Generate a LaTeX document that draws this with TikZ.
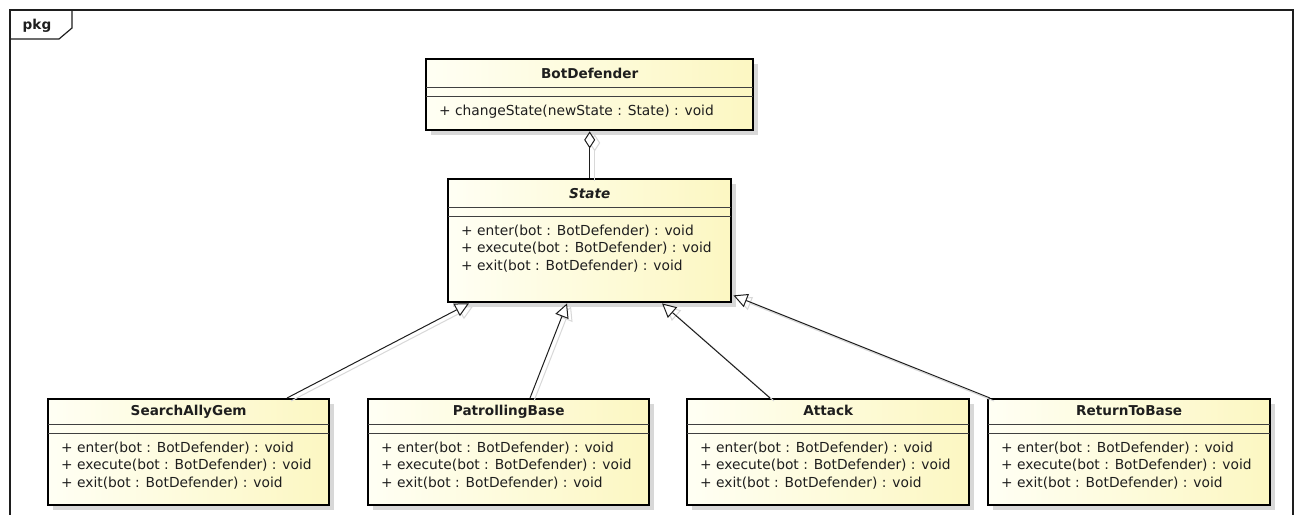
\documentclass[tikz,border=0pt]{standalone}
\usepackage{fontspec}
\setmainfont{DejaVu Sans}
\usetikzlibrary{arrows.meta,shadows,calc}

\definecolor{boxlight}{RGB}{255,255,244}
\definecolor{boxyellow}{RGB}{252,247,194}
\definecolor{shadowgray}{RGB}{216,216,216}
\definecolor{ink}{RGB}{30,30,30}

\tikzset{
  classbox/.style={draw=black, line width=2.4pt, left color=boxlight, right color=boxyellow,
    anchor=north west, inner sep=0pt,
    drop shadow={shadow xshift=5pt, shadow yshift=-5pt, fill=shadowgray, opacity=1}},
  sepline/.style={draw=black!75, line width=0.9pt},
  classname/.style={font=\fontsize{13.6}{16}\selectfont\bfseries, text=ink, anchor=base, inner sep=0pt},
  optext/.style={font=\fontsize{13.8}{17.5}\selectfont, text=ink, anchor=base west, inner sep=0pt},
  gen/.style={-{Triangle[length=14pt,width=14pt,fill=white]}, line width=1pt, draw=ink},
  genshadow/.style={gen, draw=shadowgray, transform canvas={xshift=4pt,yshift=-3pt}},
  agg/.style={{Diamond[length=17pt,width=11pt,fill=white]}-, line width=1pt, draw=ink},
  aggshadow/.style={agg, draw=shadowgray, transform canvas={xshift=5pt,yshift=-3pt}},
  framebox/.style={draw=ink, line width=1.2pt},
}

% #1 node name, #2 left, #3 top, #4 width, #5 height,
% #6 offset of the name separator, #7 class name, #8 operations
\newcommand\umlclass[8]{%
  \node[classbox, minimum width=#4pt, minimum height=#5pt] (#1) at (#2,#3) {};
  \draw[sepline] ($(#1.north west)+(1,#6)$) -- ($(#1.north east)+(-1,#6)$);
  \draw[sepline] ($(#1.north west)+(1,#6+9)$) -- ($(#1.north east)+(-1,#6+9)$);
  \node[classname] (#1-name) at ($(#1.north)+(0,#6-8.5)$) {#7};
  \foreach \op [count=\i] in {#8} {
    \node[optext] (#1-op\i) at ($(#1.north west)+(14,#6+28+17.5*\i-17.5)$) {\op};
  }%
}

\begin{document}
\begin{tikzpicture}[x=1pt,y=-1pt]
  \useasboundingbox[fill=white] (0,0) rectangle (1301,514);

  % package frame with its name tab
  \draw[framebox] (10,530) -- (10,10) -- (1293,10) -- (1293,530);
  \draw[framebox] (10,39) -- (59,39) -- (72,28) -- (72,10);
  \node[font=\fontsize{13.6}{16}\selectfont\bfseries, text=ink, anchor=base, inner sep=0pt] (pkg) at (37,29) {pkg};

  % classes
  \umlclass{bot}{425}{58}{327}{71}{29}{BotDefender}{+ changeState(newState : State) : void}
  \umlclass{state}{447}{178}{283}{123}{29}{\itshape State}
    {+ enter(bot : BotDefender) : void, + execute(bot : BotDefender) : void, + exit(bot : BotDefender) : void}
  \umlclass{sag}{47}{398}{281}{106}{26}{SearchAllyGem}
    {+ enter(bot : BotDefender) : void, + execute(bot : BotDefender) : void, + exit(bot : BotDefender) : void}
  \umlclass{pb}{367}{398}{281}{106}{26}{PatrollingBase}
    {+ enter(bot : BotDefender) : void, + execute(bot : BotDefender) : void, + exit(bot : BotDefender) : void}
  \umlclass{att}{686}{398}{282}{106}{26}{Attack}
    {+ enter(bot : BotDefender) : void, + execute(bot : BotDefender) : void, + exit(bot : BotDefender) : void}
  \umlclass{rtb}{987}{398}{282}{106}{26}{ReturnToBase}
    {+ enter(bot : BotDefender) : void, + execute(bot : BotDefender) : void, + exit(bot : BotDefender) : void}

  % aggregation: BotDefender holds a State
  \draw[aggshadow] (bot.south) -- (state.north);
  \draw[agg] (bot.south) -- (state.north);

  % generalizations to State
  \draw[genshadow] ($(sag.north west)+(240,0)$) -- ($(state.south west)+(22,0)$);
  \draw[genshadow] ($(pb.north west)+(163,0)$) -- ($(state.south west)+(120,0)$);
  \draw[genshadow] ($(att.north west)+(84,0)$) -- ($(state.south west)+(215,0)$);
  \draw[genshadow] ($(rtb.north west)+(3,0)$) -- ($(state.south east)+(1,-8)$);
  \draw[gen] ($(sag.north west)+(240,0)$) -- ($(state.south west)+(22,0)$);
  \draw[gen] ($(pb.north west)+(163,0)$) -- ($(state.south west)+(120,0)$);
  \draw[gen] ($(att.north west)+(84,0)$) -- ($(state.south west)+(215,0)$);
  \draw[gen] ($(rtb.north west)+(3,0)$) -- ($(state.south east)+(1,-8)$);
\end{tikzpicture}
\end{document}
